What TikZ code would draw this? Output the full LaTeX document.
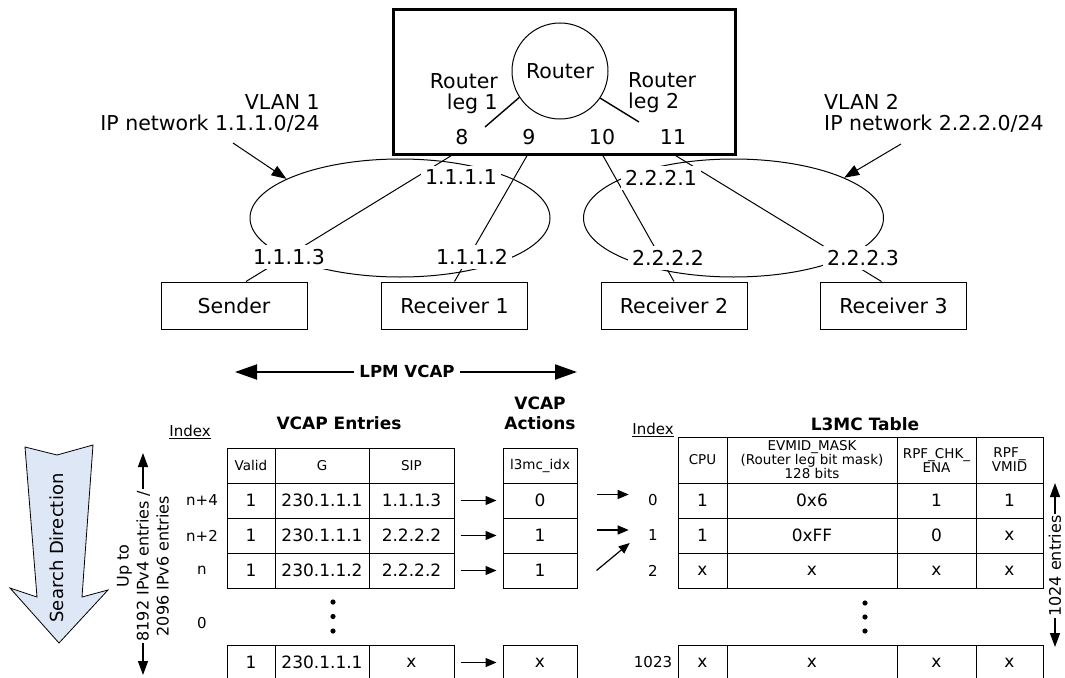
\documentclass[tikz,border=0pt]{standalone}
\usepackage{fontspec}
\setmainfont{DejaVu Sans}
\usetikzlibrary{arrows.meta,shapes.geometric}
\definecolor{searchblue}{RGB}{221,231,246}
\tikzset{
  big/.style={font=\fontsize{20.5}{21.5}\selectfont},
  lbl/.style={big, fill=white, inner sep=4pt},
  host/.style={draw, line width=1pt, minimum width=146pt, minimum height=47pt, big, inner sep=0pt},
  netell/.style={ellipse, draw, line width=1pt, minimum width=300pt, minimum height=118pt, inner sep=0pt},
  cell/.style={draw, line width=1pt, inner sep=0pt, minimum height=35pt, font=\fontsize{17}{19}\selectfont},
  hcell/.style={cell, font=\fontsize{13.5}{14}\selectfont, align=center},
  ttl/.style={font=\bfseries\fontsize{17}{20}\selectfont, align=center},
  idx/.style={font=\fontsize{15}{17}\selectfont},
  thin/.style={line width=1pt},
  sarrow/.style={line width=1.2pt, -{Triangle[length=11pt,width=9pt]}},
  vlarrow/.style={line width=1pt, -{Triangle[length=15pt,width=11pt]}},
  lpm/.style={line width=2pt, {Triangle[length=22pt,width=15pt]}-{Triangle[length=22pt,width=15pt]}},
  vd/.style={line width=1.5pt, {Triangle[length=14pt,width=10pt]}-{Triangle[length=14pt,width=10pt]}},
}
\begin{document}
\begin{tikzpicture}[x=1pt,y=-1pt]
\useasboundingbox (0,0) rectangle (1065,677);

% ---------- router ----------
\node[draw, line width=3pt, minimum width=342pt, minimum height=144pt, inner sep=0pt] (rbox) at (564,82) {};
\node[circle, draw, line width=1pt, minimum size=96pt, inner sep=0pt, big] (router) at (560,71) {Router};
\node[big, align=right, anchor=east, inner sep=0pt] (leg1) at (498,93.5) {Router\\leg 1};
\node[big, align=left, anchor=west, inner sep=0pt] (leg2) at (628,92.5) {Router\\leg 2};
\coordinate (l1e) at (485,127);
\coordinate (l2e) at (639,122);
\draw[line width=1.4pt] (router.213) -- (l1e);
\draw[line width=1.4pt] (router.-34) -- (l2e);
\node[big] (n8) at (462,137) {8};
\node[big] (n9) at (529,137) {9};
\node[big] (n10) at (602,137) {10};
\node[big] (n11) at (673,137) {11};
\coordinate (p8) at (454,154);
\coordinate (p9) at (528,154);
\coordinate (p10) at (602,154);
\coordinate (p11) at (673,154);

% ---------- hosts ----------
\node[host] (sender) at (234,305.5) {Sender};
\node[host] (rec1) at (454.5,305.5) {Receiver 1};
\node[host] (rec2) at (674,305.5) {Receiver 2};
\node[host] (rec3) at (893.5,305.5) {Receiver 3};

% ---------- networks ----------
\node[netell] (net1) at (400,218) {};
\node[netell] (net2) at (733.5,218) {};

\draw[thin] (p8) -- ([xshift=12pt]sender.north);
\draw[thin] (p9) -- (rec1.north);
\draw[thin] (p10) -- (rec2.north);
\draw[thin] (p11) -- ([xshift=-12pt]rec3.north);

\node[lbl] (a1) at (461,177) {1.1.1.1};
\node[lbl] (a3) at (289,257) {1.1.1.3};
\node[lbl] (a2) at (472,257) {1.1.1.2};
\node[lbl] (b1) at (661,178) {2.2.2.1};
\node[lbl] (b2) at (668,258) {2.2.2.2};
\node[lbl] (b3) at (863,258) {2.2.2.3};

\node[big, align=right, anchor=east, inner sep=0pt] (vlan1) at (320,113.5) {VLAN 1\\IP network 1.1.1.0/24};
\node[big, align=left, anchor=west, inner sep=0pt] (vlan2) at (824,113.5) {VLAN 2\\IP network 2.2.2.0/24};
\coordinate (v1s) at (233,143);
\coordinate (v2s) at (901,144);
\draw[vlarrow] (v1s) -- (net1.161);
\draw[vlarrow] (v2s) -- (net2.20);

% ---------- LPM VCAP ----------
\coordinate (lpmL) at (235,372);
\coordinate (lpmR) at (577,372);
\draw[lpm] (lpmL) -- (lpmR);
\node[fill=white, inner sep=5pt, font=\bfseries\fontsize{16.6}{18}\selectfont] (lpmt) at (407,371) {LPM VCAP};

% ---------- search direction ----------
\filldraw[fill=searchblue, draw=black, line width=0.8pt, line join=miter]
  (25,447) -- (57,455) -- (93,445) -- (82,597) -- (108,590) -- (59,643) -- (10,588) -- (37,597) -- cycle;
\node[rotate=90, font=\fontsize{18}{20}\selectfont] (srch) at (57,548) {Search Direction};

% ---------- capacity arrow ----------
\coordinate (ua) at (143,453);
\coordinate (ub) at (143,675);
\draw[vd] (ua) -- (ub);
\node[rotate=90, fill=white, align=center, inner sep=2pt, font=\fontsize{16}{20}\selectfont] (upto) at (143,566) {Up to\\8192 IPv4 entries /\\2096 IPv6 entries};

% ---------- index labels ----------
\node[idx] (ixl) at (190,432) {\underline{Index}};
\node[idx] (ix1) at (202,500.5) {n+4};
\node[idx] (ix2) at (202,535.5) {n+2};
\node[idx] (ix3) at (202,570.5) {n};
\node[idx] (ix4) at (202,623) {0};

% ---------- VCAP entries ----------
\node[ttl] (tve) at (339,423) {VCAP Entries};
\node[hcell, minimum width=48pt] (vh1) at (251,465.5) {Valid};
\node[hcell, minimum width=94pt] (vh2) at (322,465.5) {G};
\node[hcell, minimum width=85pt] (vh3) at (411.5,465.5) {SIP};
\foreach \r/\y/\a/\b/\c in {1/500.5/1/230.1.1.1/1.1.1.3, 2/535.5/1/230.1.1.1/2.2.2.2, 3/570.5/1/230.1.1.2/2.2.2.2, 4/662.5/1/230.1.1.1/x}{
  \node[cell, minimum width=48pt] (va\r) at (251,\y) {\a};
  \node[cell, minimum width=94pt] (vb\r) at (322,\y) {\b};
  \node[cell, minimum width=85pt] (vc\r) at (411.5,\y) {\c};
}
\foreach \y in {602,616.5,631} \fill (333,\y) circle (2.6pt);

% ---------- VCAP actions ----------
\node[ttl] (tva) at (540,413) {VCAP\\Actions};
\node[hcell, minimum width=74pt] (ah) at (540,465.5) {l3mc\_idx};
\foreach \r/\y/\v in {1/500.5/0, 2/535.5/1, 3/570.5/1, 4/662.5/x}{
  \node[cell, minimum width=74pt] (ac\r) at (540,\y) {\v};
  \draw[sarrow] ([xshift=6pt]vc\r.east) -- ([xshift=-6pt]ac\r.west);
}

% ---------- L3MC ----------
\node[ttl] (tl3) at (865,424) {L3MC Table};
\node[idx] (ixr) at (653,430) {\underline{Index}};
\node[idx] (ir1) at (653,500.5) {0};
\node[idx] (ir2) at (653,535.5) {1};
\node[idx] (ir3) at (653,570.5) {2};
\node[idx] (ir4) at (653,662.5) {1023};
\node[hcell, minimum width=49pt, minimum height=46pt] (lh1) at (702.5,460) {CPU};
\node[hcell, minimum width=170pt, minimum height=46pt] (lh2) at (812,460) {EVMID\_MASK\\(Router leg bit mask)\\128 bits};
\node[hcell, minimum width=79pt, minimum height=46pt] (lh3) at (936.5,460) {RPF\_CHK\_\\ENA};
\node[hcell, minimum width=67pt, minimum height=46pt] (lh4) at (1009.5,460) {RPF\_\\VMID};
\foreach \r/\y/\a/\b/\c/\d in {1/500.5/1/0x6/1/1, 2/535.5/1/0xFF/0/x, 3/570.5/x/x/x/x, 4/662.5/x/x/x/x}{
  \node[cell, minimum width=49pt] (la\r) at (702.5,\y) {\a};
  \node[cell, minimum width=170pt] (lb\r) at (812,\y) {\b};
  \node[cell, minimum width=79pt] (lc\r) at (936.5,\y) {\c};
  \node[cell, minimum width=67pt] (ld\r) at (1009.5,\y) {\d};
}
\foreach \y in {603,617,631} \fill (865,\y) circle (2.6pt);

\draw[sarrow] ([xshift=19pt,yshift=6pt]ac1.east) -- ([xshift=-16pt,yshift=6pt]ir1.west);
\draw[sarrow] ([xshift=19pt,yshift=5.5pt]ac2.east) -- ([xshift=-16pt,yshift=5.5pt]ir2.west);
\draw[sarrow] ([xshift=19pt]ac3.east) -- ([xshift=-15pt,yshift=-7.5pt]ir2.west);

% ---------- 1024 entries ----------
\coordinate (ra) at (1055,483);
\coordinate (rb) at (1055,647);
\draw[vd] (ra) -- (rb);
\node[rotate=90, fill=white, inner sep=1pt, font=\fontsize{16}{18}\selectfont] (e1024) at (1055,566) {1024 entries};
\end{tikzpicture}
\end{document}
